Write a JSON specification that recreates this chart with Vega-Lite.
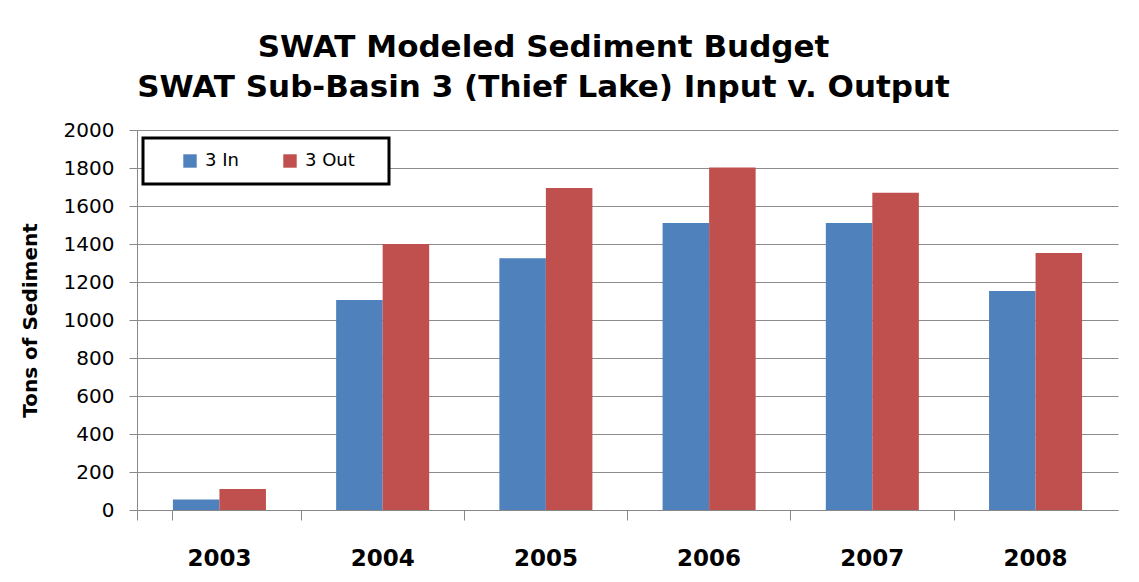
{
  "$schema": "https://vega.github.io/schema/vega-lite/v6.json",
  "autosize": {"type": "none"},
  "width": 981,
  "height": 380,
  "padding": {"left": 137, "top": 130, "right": 21, "bottom": 72},
  "background": "white",
  "title": {
    "text": ["SWAT Modeled Sediment Budget", "SWAT Sub-Basin 3 (Thief Lake) Input v. Output"],
    "font": "DejaVu Sans",
    "fontSize": 31,
    "fontWeight": "bold",
    "color": "#000000",
    "anchor": "middle",
    "frame": "group",
    "dx": -84,
    "lineHeight": 40,
    "offset": 16
  },
  "data": {
    "values": [
      {"year": "2003", "series": "3 In", "tons": 55},
      {"year": "2003", "series": "3 Out", "tons": 110},
      {"year": "2004", "series": "3 In", "tons": 1105},
      {"year": "2004", "series": "3 Out", "tons": 1400},
      {"year": "2005", "series": "3 In", "tons": 1325},
      {"year": "2005", "series": "3 Out", "tons": 1695},
      {"year": "2006", "series": "3 In", "tons": 1510},
      {"year": "2006", "series": "3 Out", "tons": 1802},
      {"year": "2007", "series": "3 In", "tons": 1510},
      {"year": "2007", "series": "3 Out", "tons": 1670},
      {"year": "2008", "series": "3 In", "tons": 1152},
      {"year": "2008", "series": "3 Out", "tons": 1353}
    ]
  },
  "mark": {"type": "bar"},
  "encoding": {
    "x": {
      "field": "year",
      "type": "nominal",
      "scale": {"paddingInner": 0.43, "paddingOuter": 0.22},
      "axis": {
        "title": null,
        "labelAngle": 0,
        "labelFont": "DejaVu Sans",
        "labelFontSize": 23,
        "labelFontWeight": "bold",
        "labelColor": "#000000",
        "labelPadding": 27,
        "ticks": true,
        "bandPosition": -0.376,
        "tickExtra": true,
        "tickSize": 10,
        "tickWidth": 1,
        "tickOpacity": 1,
        "tickColor": "#888888",
        "domainColor": "#888888",
        "grid": false
      }
    },
    "xOffset": {"field": "series", "type": "nominal"},
    "y": {
      "field": "tons",
      "type": "quantitative",
      "scale": {"domain": [0, 2000], "nice": false},
      "axis": {
        "title": "Tons of Sediment",
        "titleFont": "DejaVu Sans",
        "titleFontSize": 20,
        "titleFontWeight": "bold",
        "titleColor": "#000000",
        "titlePadding": 23,
        "values": [0, 200, 400, 600, 800, 1000, 1200, 1400, 1600, 1800, 2000],
        "format": "d",
        "labelFont": "DejaVu Sans",
        "labelFontSize": 20,
        "labelColor": "#000000",
        "labelPadding": 15,
        "tickSize": 8,
        "tickColor": "#888888",
        "domainColor": "#888888",
        "grid": true,
        "gridColor": "#8c8c8c",
        "gridWidth": 1
      }
    },
    "color": {
      "field": "series",
      "type": "nominal",
      "scale": {"range": ["#4F81BD", "#C0504D"]},
      "legend": {
        "title": "\u00a0",
        "titleOrient": "right",
        "titleFontSize": 12,
        "titlePadding": 20,
        "orient": "none",
        "legendX": 6,
        "legendY": 8,
        "direction": "horizontal",
        "columns": 2,
        "columnPadding": 18,
        "symbolType": "square",
        "symbolSize": 180,
        "symbolStrokeWidth": 0,
        "symbolOffset": 24,
        "labelFont": "DejaVu Sans",
        "labelFontSize": 18,
        "labelColor": "#000000",
        "labelOffset": 6,
        "padding": 14,
        "strokeColor": "#000000",
        "fillColor": "white"
      }
    }
  },
  "config": {
    "view": {"stroke": null},
    "legend": {"strokeWidth": 3}
  }
}
